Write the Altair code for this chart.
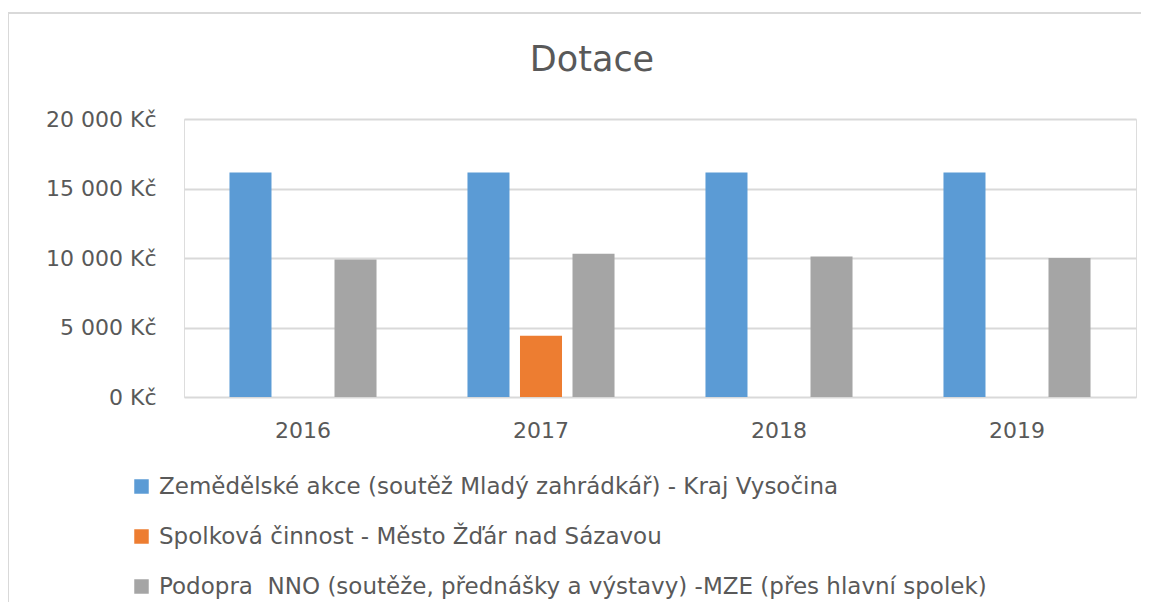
import altair as alt
import pandas as pd

years = ["2016", "2017", "2018", "2019"]
series = [
    "Zemědělské akce (soutěž Mladý zahrádkář) - Kraj Vysočina",
    "Spolková činnost - Město Žďár nad Sázavou",
    "Podopra\u00a0 NNO (soutěže, přednášky a výstavy) -MZE (přes hlavní spolek)",
]
zemedelske = [16150, 16150, 16150, 16150]
spolkova = [None, 4400, None, None]
podpora = [9900, 10300, 10100, 10000]
colors = ["#5B9BD5", "#ED7D31", "#A5A5A5"]

rows = []
for s, vals in zip(series, [zemedelske, spolkova, podpora]):
    for y, v in zip(years, vals):
        if v is not None:
            rows.append({"rok": y, "serie": s, "hodnota": v})
df = pd.DataFrame(rows)

FONT = "DejaVu Sans"
TXT = "#595959"
W, H = 952, 278

frame = alt.Chart(pd.DataFrame({"a": [0]})).mark_rect(
    fill=None, stroke="#D9D9D9", strokeWidth=2
).encode(
    x=alt.value(-176), x2=alt.value(W + 40),
    y=alt.value(-106), y2=alt.value(H + 260),
)

bars = alt.Chart(df).mark_bar().encode(
    x=alt.X("rok:N", sort=years,
            scale=alt.Scale(paddingInner=0.338, paddingOuter=0.169),
            axis=alt.Axis(title=None, labelAngle=0, domain=False, ticks=False,
                          labelPadding=23, labelFontSize=22, labelColor=TXT,
                          labelFont=FONT)),
    xOffset=alt.XOffset("serie:N", sort=series,
                        scale=alt.Scale(paddingInner=0.2, paddingOuter=0.1)),
    y=alt.Y("hodnota:Q",
            scale=alt.Scale(domain=[0, 20000]),
            axis=alt.Axis(title=None, values=[0, 5000, 10000, 15000, 20000],
                          labelExpr="replace(format(datum.value, ',d'), ',', ' ') + ' Kč'",
                          domain=False, ticks=False, labelPadding=28,
                          labelFontSize=22, labelColor=TXT, labelFont=FONT,
                          grid=True, gridColor="#D9D9D9", gridWidth=2)),
    color=alt.Color("serie:N", sort=series,
                    scale=alt.Scale(domain=series, range=colors),
                    legend=alt.Legend(title=None, orient="none",
                                      legendX=-54, legendY=356,
                                      direction="vertical",
                                      symbolType="square", symbolSize=210,
                                      symbolStrokeWidth=0,
                                      labelFontSize=23, labelColor=TXT,
                                      labelFont=FONT, labelOffset=6,
                                      rowPadding=26, padding=0,
                                      labelLimit=1000)),
)

chart = alt.layer(frame, bars).properties(
    width=W, height=H,
    title=alt.Title("Dotace", fontSize=35, font=FONT, color=TXT,
                    fontWeight="normal", anchor="middle", dx=-68, offset=-66),
    autosize=alt.AutoSizeParams(type="none"),
    padding={"left": 176, "top": 111, "right": 5, "bottom": 205},
).configure_view(stroke=None).configure(background="white")

chart.save("out.html", embed_options={"renderer": "svg", "actions": False})
